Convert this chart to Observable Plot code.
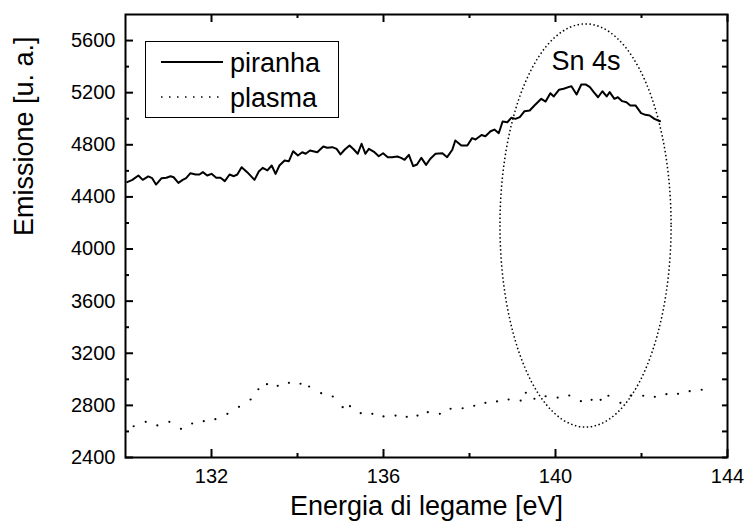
<!DOCTYPE html>
<html>
<head>
<meta charset="utf-8">
<script src="https://cdn.jsdelivr.net/npm/d3@7"></script>
<script src="https://cdn.jsdelivr.net/npm/@observablehq/plot@0.6"></script>
<style>
  html, body { margin: 0; padding: 0; background: #fff; }
  #chart { width: 744px; height: 529px; }
</style>
</head>
<body>
<div id="chart"></div>
<script>
// ---- data ----
const piranhaEnergy = [
  130.04,130.16,130.30,130.40,130.53,130.62,130.71,130.84,130.95,131.05,
  131.12,131.23,131.33,131.41,131.51,131.63,131.72,131.80,131.90,132.00,
  132.11,132.21,132.31,132.42,132.52,132.60,132.70,132.83,133.00,133.10,
  133.19,133.30,133.40,133.49,133.58,133.70,133.80,133.90,134.01,134.11,
  134.19,134.29,134.46,134.60,134.69,134.81,134.91,135.00,135.10,135.21,
  135.31,135.40,135.49,135.58,135.66,135.79,135.89,135.99,136.10,136.20,
  136.32,136.41,136.49,136.59,136.69,136.78,136.88,136.99,137.09,137.21,
  137.37,137.48,137.60,137.67,137.81,137.95,138.06,138.14,138.28,138.37,
  138.49,138.58,138.68,138.77,138.88,138.97,139.07,139.17,139.28,139.40,
  139.51,139.67,139.77,139.88,139.96,140.08,140.19,140.37,140.49,140.60,
  140.70,140.80,140.89,140.99,141.09,141.19,141.26,141.37,141.45,141.55,
  141.65,141.74,141.86,141.99,142.09,142.19,142.30,142.43
];
const piranhaCounts = [
  4513,4531,4564,4531,4557,4544,4495,4544,4547,4559,
  4551,4508,4531,4544,4582,4572,4572,4590,4564,4577,
  4547,4547,4521,4572,4559,4572,4628,4590,4531,4595,
  4623,4603,4641,4577,4641,4679,4674,4751,4718,4743,
  4731,4756,4743,4787,4777,4782,4769,4726,4764,4795,
  4764,4731,4808,4731,4769,4743,4712,4735,4705,4705,
  4710,4700,4685,4723,4636,4649,4700,4646,4693,4731,
  4735,4705,4762,4833,4795,4795,4851,4841,4875,4866,
  4904,4917,4889,4979,4973,5007,4999,5012,5058,5063,
  5102,5153,5132,5196,5171,5222,5230,5250,5186,5263,
  5263,5242,5204,5165,5211,5171,5204,5153,5165,5135,
  5127,5102,5102,5043,5030,5025,4999,4981
];
const plasmaEnergy = [
  130.19,130.47,130.74,131.02,131.29,131.55,131.82,132.09,132.37,132.64,
  132.91,133.09,133.29,133.54,133.80,134.07,134.27,134.55,134.82,135.05,
  135.22,135.47,135.74,136.00,136.28,136.54,136.79,137.03,137.31,137.56,
  137.84,138.11,138.37,138.64,138.91,139.19,139.31,139.51,139.77,140.05,
  140.32,140.59,140.84,141.05,141.23,141.51,141.75,142.04,142.31,142.58,
  142.85,143.12,143.40
];
const plasmaCounts = [
  2640,2674,2646,2674,2620,2661,2679,2694,2735,2789,
  2845,2924,2963,2950,2973,2966,2945,2894,2868,2786,
  2794,2740,2735,2715,2722,2712,2722,2748,2735,2774,
  2778,2797,2820,2830,2845,2837,2897,2851,2870,2860,
  2876,2832,2843,2843,2874,2820,2876,2874,2866,2886,
  2889,2909,2920
];
const seriesNames = ["piranha", "plasma"];
const xTickLabels = [132, 136, 140, 144];
const xMinorTicks = [134, 138, 142];
const yTickLabels = [2400, 2800, 3200, 3600, 4000, 4400, 4800, 5200, 5600];
const yMinorTicks = [2600, 3000, 3400, 3800, 4200, 4600, 5000, 5400];
const xTitle = "Energia di legame [eV]";
const yTitle = "Emissione [u. a.]";
const peakLabel = "Sn 4s";
// annotation ellipse around the Sn 4s peak (data units)
const ellipseCenter = {energy: 140.71, counts: 4177};
const ellipseRadius = {energy: 1.99, counts: 1547};
const peakLabelPos = {energy: 140.71, counts: 5440};

// ---- build ----
const piranha = piranhaEnergy.map((e, i) => ({energy: e, counts: piranhaCounts[i]}));
const plasma = plasmaEnergy.map((e, i) => ({energy: e, counts: plasmaCounts[i]}));

const W = 744, H = 529;
const mT = 14, mR = 17, mB = 72, mL = 125;
const pw = W - mL - mR, ph = H - mT - mB;
const major = 8, minor = 4;
const font = "'Liberation Sans', Arial, Helvetica, sans-serif";

function ellipseMark(index, scales) {
  const x = scales.x, y = scales.y;
  const cx = x(ellipseCenter.energy), cy = y(ellipseCenter.counts);
  const rx = x(ellipseCenter.energy + ellipseRadius.energy) - cx;
  const ry = cy - y(ellipseCenter.counts + ellipseRadius.counts);
  const g = d3.create("svg:g");
  g.append("ellipse")
    .attr("cx", cx).attr("cy", cy).attr("rx", rx).attr("ry", ry)
    .attr("fill", "none").attr("stroke", "black")
    .attr("stroke-width", 1.5).attr("stroke-dasharray", "1.5,2.5");
  return g.node();
}

function legendMark() {
  const g = d3.create("svg:g").attr("font-family", font).attr("font-size", 27)
    .attr("text-anchor", "start");
  g.append("rect").attr("x", 145.5).attr("y", 41.5).attr("width", 193).attr("height", 76)
    .attr("fill", "white").attr("stroke", "black").attr("stroke-width", 1);
  const rows = [
    {name: seriesNames[0], y: 62, dash: null},
    {name: seriesNames[1], y: 97, dash: "1.5,6.5"}
  ];
  for (const r of rows) {
    const l = g.append("line").attr("x1", 161).attr("x2", 223).attr("y1", r.y).attr("y2", r.y)
      .attr("stroke", "black").attr("stroke-width", r.dash ? 1.6 : 2);
    if (r.dash) l.attr("stroke-dasharray", r.dash);
    g.append("text").attr("x", 230).attr("y", r.y + 9.5).attr("fill", "black")
      .attr("text-anchor", "start").text(r.name);
  }
  return g.node();
}

const chart = Plot.plot({
  width: W, height: H,
  marginTop: mT, marginRight: mR, marginBottom: mB, marginLeft: mL,
  style: {fontFamily: font, background: "white", color: "black", overflow: "visible"},
  x: {domain: [130, 144]},
  y: {domain: [2400, 5800]},
  marks: [
    // tick labels
    Plot.axisX(xTickLabels, {anchor: "bottom", tickSize: 0, tickPadding: 11, fontSize: 20, label: null, tickFormat: d => String(d)}),
    Plot.axisY(yTickLabels, {anchor: "left", tickSize: 0, tickPadding: 10, fontSize: 20, label: null, tickFormat: d => String(d)}),
    // inward ticks on all four sides
    Plot.ruleX(xTickLabels, {x: d => d, insetTop: ph - major, strokeWidth: 2}),
    Plot.ruleX(xMinorTicks, {x: d => d, insetTop: ph - minor, strokeWidth: 2}),
    Plot.ruleX(xTickLabels, {x: d => d, insetBottom: ph - major, strokeWidth: 2}),
    Plot.ruleX(xMinorTicks, {x: d => d, insetBottom: ph - minor, strokeWidth: 2}),
    Plot.ruleY(yTickLabels, {y: d => d, insetRight: pw - major, strokeWidth: 2}),
    Plot.ruleY(yMinorTicks, {y: d => d, insetRight: pw - minor, strokeWidth: 2}),
    Plot.ruleY(yTickLabels, {y: d => d, insetLeft: pw - minor - 1, strokeWidth: 2}),
    Plot.ruleY(yMinorTicks, {y: d => d, insetLeft: pw - minor - 1, strokeWidth: 2}),
    // data
    Plot.line(piranha, {x: "energy", y: "counts", stroke: "black", strokeWidth: 2}),
    Plot.dot(plasma, {x: "energy", y: "counts", r: 1.1, fill: "black", stroke: null}),
    // annotation
    ellipseMark,
    Plot.text([peakLabel], {x: () => peakLabelPos.energy, y: () => peakLabelPos.counts, text: d => d, fontSize: 27, fill: "black"}),
    legendMark,
    // frame
    Plot.frame({stroke: "black", strokeWidth: 2}),
    // axis titles
    Plot.text([xTitle], {frameAnchor: "bottom", dy: 57, text: d => d, fontSize: 27, fill: "black"}),
    Plot.text([yTitle], {frameAnchor: "left", dx: -101, rotate: -90, text: d => d, fontSize: 27, fill: "black"})
  ]
});
document.getElementById("chart").appendChild(chart);
</script>
</body>
</html>
